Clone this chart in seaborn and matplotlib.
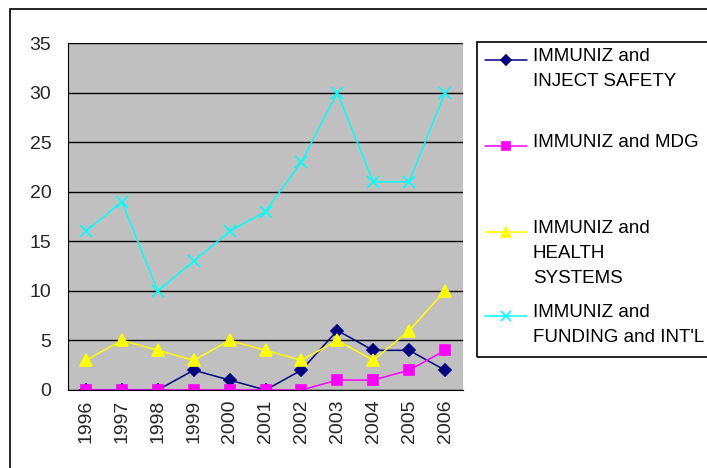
import matplotlib
matplotlib.use("Agg")
import matplotlib.pyplot as plt
import seaborn as sns
import numpy as np
from matplotlib.lines import Line2D
from matplotlib.patches import Rectangle

years = ["1996", "1997", "1998", "1999", "2000", "2001", "2002", "2003", "2004", "2005", "2006"]
inject_safety = [0, 0, 0, 2, 1, 0, 2, 6, 4, 4, 2]
mdg = [0, 0, 0, 0, 0, 0, 0, 1, 1, 2, 4]
health_systems = [3, 5, 4, 3, 5, 4, 3, 5, 3, 6, 10]
funding_intl = [16, 19, 10, 13, 16, 18, 23, 30, 21, 21, 30]

labels = ["IMMUNIZ and\nINJECT SAFETY", "IMMUNIZ and MDG",
          "IMMUNIZ and\nHEALTH\nSYSTEMS", "IMMUNIZ and\nFUNDING and INT'L"]
colors = ["#000080", "#FF00FF", "#FFFF00", "#00FFFF"]
markers = ["D", "s", "^", "x"]
msizes = [6, 7, 8, 8]

sns.set_style("white")
plt.rcParams["font.family"] = ["Liberation Sans", "DejaVu Sans"]

fig = plt.figure(figsize=(7.07, 4.68), dpi=100)
W, H = 707, 468
ax = fig.add_axes([68 / W, 1 - 390 / H, (463 - 68) / W, (390 - 43) / H])
ax.set_facecolor("#C0C0C0")

x = np.arange(len(years))
series = [inject_safety, mdg, health_systems, funding_intl]
for vals, c, m, ms in zip(series, colors, markers, msizes):
    sns.lineplot(x=x, y=vals, ax=ax, color=c, marker=m, markersize=ms,
                 markeredgecolor=c, markeredgewidth=1.2, linewidth=1.1)

ax.set_xlim(-0.5, len(years) - 0.5)
ax.set_ylim(0, 35)
ax.set_yticks(range(0, 36, 5))
ax.set_yticklabels([str(v) for v in range(0, 36, 5)], fontsize=14)
ax.yaxis.grid(True, color="black", linewidth=1)
ax.set_axisbelow(True)
ax.set_xticks(x)
ax.set_xticklabels(years, rotation=90, fontsize=14)
ax.set_xticks(np.arange(-0.5, len(years), 1), minor=True)
ax.tick_params(axis="x", which="major", length=0, pad=7)
ax.tick_params(axis="x", which="minor", length=5, color="black", width=1, direction="out")
ax.tick_params(axis="y", length=5, color="black", width=1, direction="out", pad=7)
for s in ["top", "right"]:
    ax.spines[s].set_visible(False)
ax.spines["left"].set_color("black")
ax.spines["bottom"].set_color("black")

# outer chart border
fig.patches.append(Rectangle((10 / W, -0.1), 1.2, 1 - 9 / H + 0.1, transform=fig.transFigure,
                             fill=False, edgecolor="black", linewidth=1.2))

# legend box
fig.patches.append(Rectangle((477 / W, 1 - 357 / H), 1.0, (357 - 42) / H,
                             transform=fig.transFigure, fill=False, edgecolor="black", linewidth=1.2))
marker_y = [60, 146, 232, 316]
for lab, c, m, ms, my in zip(labels, colors, markers, msizes, marker_y):
    fy = 1 - my / H
    fig.add_artist(Line2D([485 / W, 527 / W], [fy, fy], transform=fig.transFigure, color=c, linewidth=1.1))
    fig.add_artist(Line2D([506 / W], [fy], transform=fig.transFigure, color=c, marker=m,
                          markersize=ms - 1, markeredgecolor=c, markeredgewidth=1.2))
    fig.text(533 / W, 1 - (my - 12) / H, lab, fontsize=13.5, va="top", ha="left",
             linespacing=1.62, color="black")

fig.savefig("out.png", dpi=100)
